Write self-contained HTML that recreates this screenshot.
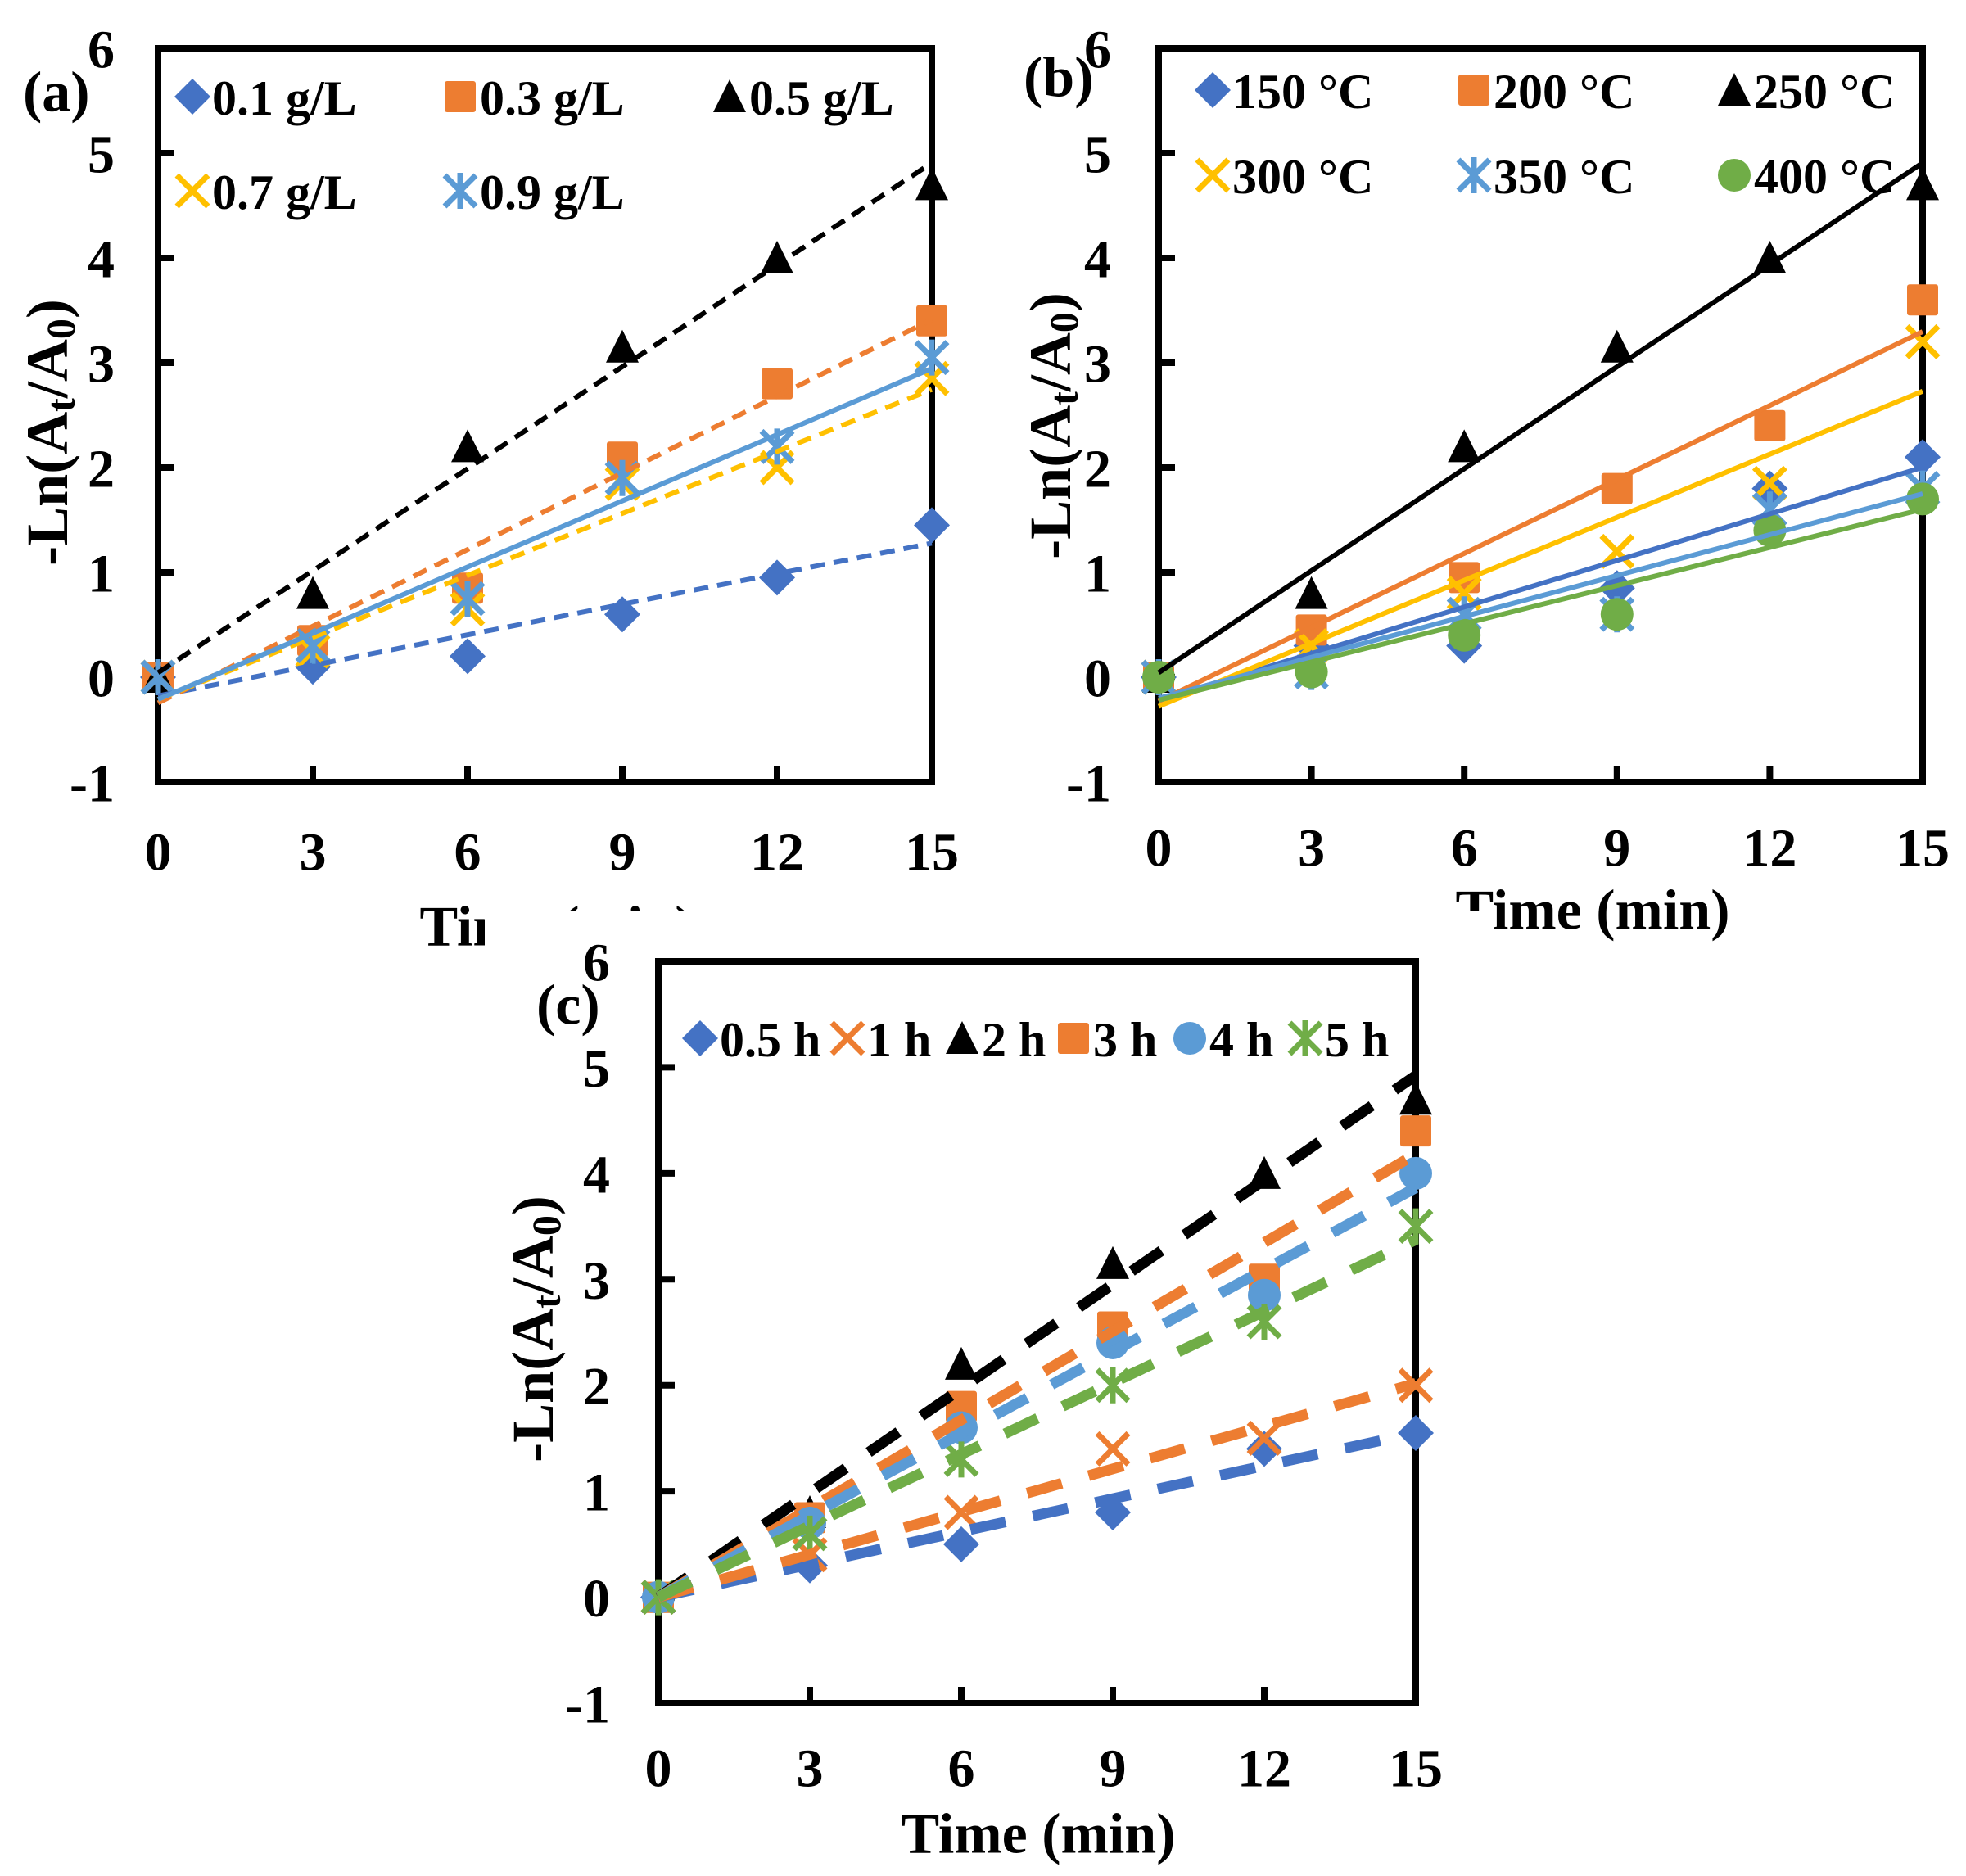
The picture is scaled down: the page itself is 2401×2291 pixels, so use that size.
<!DOCTYPE html>
<html><head><meta charset="utf-8"><style>
html,body{margin:0;padding:0;background:#fff}
svg{display:block}
text{font-family:"Liberation Serif",serif;font-weight:bold;fill:#000}
</style></head><body>
<svg id="fig" width="2401" height="2291" viewBox="0 0 2401 2291" xmlns="http://www.w3.org/2000/svg"></svg>
<script>
const NS="http://www.w3.org/2000/svg";
const svg=document.getElementById('fig');
const xTicks=[0,3,6,9,12,15];
const yTicks=[-1,0,1,2,3,4,5,6];
const times=[0,3,6,9,12,15];
// Panel (a)
const aNames=["0.1 g/L","0.3 g/L","0.5 g/L","0.7 g/L","0.9 g/L"];
const aS1=[0,0.1,0.2,0.6,0.95,1.45];
const aS2=[0,0.35,0.85,2.1,2.8,3.4];
const aS3=[0,0.8,2.2,3.15,4.0,4.7];
const aS4=[0,0.25,0.65,1.85,2.0,2.85];
const aS5=[0,0.3,0.75,1.9,2.2,3.05];
// Panel (b)
const bNames=["150 °C","200 °C","250 °C","300 °C","350 °C","400 °C"];
const bS1=[0,0.3,0.3,0.85,1.8,2.1];
const bS2=[0,0.45,0.95,1.8,2.4,3.6];
const bS3=[0,0.8,2.2,3.15,4.0,4.7];
const bS4=[0,0.3,0.8,1.2,1.85,3.2];
const bS5=[0,0.05,0.6,0.6,1.6,1.8];
const bS6=[0,0.05,0.4,0.6,1.4,1.7];
// Panel (c)
const cNames=["0.5 h","1 h","2 h","3 h","4 h","5 h"];
const cS1=[0,0.3,0.5,0.8,1.4,1.55];
const cS2=[0,0.4,0.8,1.4,1.5,2.0];
const cS3=[0,0.8,2.2,3.15,4.0,4.7];
const cS4=[0,0.75,1.8,2.55,3.0,4.4];
const cS5=[0,0.7,1.6,2.4,2.85,4.0];
const cS6=[0,0.6,1.3,2.0,2.6,3.5];

const BLUE="#4472C4",OR="#ED7D31",BK="#000",YE="#FFC000",LB="#5B9BD5",GR="#70AD47";

function mk(tag,attrs,parent){const e=document.createElementNS(NS,tag);for(const k in attrs)e.setAttribute(k,attrs[k]);(parent||svg).appendChild(e);return e;}

function marker(g,type,cx,cy,col){
  let e;const s=19;
  if(type==='diamond')e=mk('polygon',{points:`${cx},${cy-s-3} ${cx+s+3},${cy} ${cx},${cy+s+3} ${cx-s-3},${cy}`,fill:col},g);
  else if(type==='square')e=mk('rect',{x:cx-s,y:cy-s,width:2*s,height:2*s,fill:col,rx:3},g);
  else if(type==='triangle')e=mk('polygon',{points:`${cx},${cy-s-2} ${cx+s+1},${cy+s} ${cx-s-1},${cy+s}`,fill:col},g);
  else if(type==='circle')e=mk('circle',{cx:cx,cy:cy,r:s+1,fill:col},g);
  else if(type==='x')e=mk('path',{d:`M${cx-s},${cy-s}L${cx+s},${cy+s}M${cx+s},${cy-s}L${cx-s},${cy+s}`,stroke:col,'stroke-width':7,fill:'none'},g);
  else if(type==='star')e=mk('path',{d:`M${cx-s},${cy-s}L${cx+s},${cy+s}M${cx+s},${cy-s}L${cx-s},${cy+s}M${cx},${cy-s-3}L${cx},${cy+s+3}`,stroke:col,'stroke-width':7,fill:'none'},g);
  return e;
}

function fit(vals,origin){
  const n=times.length;
  if(origin){let sxy=0,sxx=0;for(let i=0;i<n;i++){sxy+=times[i]*vals[i];sxx+=times[i]*times[i];}return {m:sxy/sxx,b:0};}
  let mx=0,my=0;for(let i=0;i<n;i++){mx+=times[i];my+=vals[i];}mx/=n;my/=n;
  let sxy=0,sxx=0;for(let i=0;i<n;i++){sxy+=(times[i]-mx)*(vals[i]-my);sxx+=(times[i]-mx)**2;}
  const m=sxy/sxx;return {m:m,b:my-m*mx};
}

function panel(cfg){
  const g=mk('g',{});
  
  
  if(cfg.cover){const r=mk('rect',{x:cfg.cover[0],y:cfg.cover[1],width:cfg.cover[2],height:cfg.cover[3],fill:'#fff'},g);
    }
  const X=v=>cfg.x0+(v-0)/15*(cfg.x1-cfg.x0);
  const Y=v=>cfg.yb+(v+1)/7*(cfg.yt-cfg.yb);
  const fr=mk('rect',{x:cfg.x0,y:cfg.yt,width:cfg.x1-cfg.x0,height:cfg.yb-cfg.yt,fill:'none',stroke:'#000','stroke-width':8},g);
  
  xTicks.forEach(t=>{
    const l=mk('line',{x1:X(t),x2:X(t),y1:cfg.yb,y2:cfg.yb-20,stroke:'#000','stroke-width':8},g);
    
    const tx=mk('text',{x:X(t),y:cfg.xly,'font-size':66,'text-anchor':'middle','dominant-baseline':'central'},g);
    tx.textContent=t;
  });
  yTicks.forEach(t=>{
    const l=mk('line',{x1:cfg.x0,x2:cfg.x0+20,y1:Y(t),y2:Y(t),stroke:'#000','stroke-width':8},g);
    
    const tx=mk('text',{x:cfg.ylx,y:Y(t)+2,'font-size':66,'text-anchor':'end','dominant-baseline':'central'},g);
    tx.textContent=t;
  });
  const yt=mk('text',{x:0,y:0,'font-size':72,'text-anchor':'middle','dominant-baseline':'central',transform:`translate(${cfg.ytx},${cfg.yty}) rotate(-90)`},g);
  yt.innerHTML='-Ln(A<tspan font-size="50" dy="16">t</tspan><tspan dy="-16">/A</tspan><tspan font-size="50" dy="16">0</tspan><tspan dy="-16">)</tspan>';
  
  const lab=mk('text',{x:cfg.lab[0],y:cfg.lab[1],'font-size':70,'dominant-baseline':'central'},g);
  lab.textContent=cfg.label;
  cfg.series.forEach((s,i)=>{
    const sg=mk('g',{},g);
    
    
    s.vals.forEach((v,j)=>{const m=marker(sg,s.type,X(times[j]),Y(v),s.col);
      });
  });
  cfg.series.forEach(s=>{
    const f=fit(s.vals,cfg.origin);
    const ln=mk('line',{x1:X(0),y1:Y(f.b),x2:X(15),y2:Y(f.b+15*f.m),stroke:s.lc||s.col,'stroke-width':cfg.lw,'stroke-dasharray':s.dash||'none'},g);
    
  });
  cfg.series.forEach((s,i)=>{
    const p=cfg.leg[i];
    const lg=mk('g',{},g);
    
    marker(lg,s.type,p[0],p[1],s.col);
    const t=mk('text',{x:p[0]+24,y:p[1]+2,'font-size':60,'dominant-baseline':'central'},lg);t.textContent=s.name;
  });
  const xt=mk('text',{x:cfg.xt[0],y:cfg.xt[1],'font-size':70,'text-anchor':'middle','dominant-baseline':'central'},g);
  xt.textContent='Time (min)';
}

const dA='18 11';
panel({id:'panel-a',label:'(a)',x0:193,x1:1138,yt:59,yb:955,xly:1041,ylx:140,ytx:58,yty:528,lab:[28,113],xt:[680,1132],origin:false,lw:6,
 series:[{name:aNames[0],vals:aS1,type:'diamond',col:BLUE,dash:dA},{name:aNames[1],vals:aS2,type:'square',col:OR,dash:dA},
 {name:aNames[2],vals:aS3,type:'triangle',col:BK,dash:dA},{name:aNames[3],vals:aS4,type:'x',col:YE,dash:dA},{name:aNames[4],vals:aS5,type:'star',col:LB}],
 leg:[[235,118],[562,118],[891,118],[235,233],[562,233]]});
panel({id:'panel-b',label:'(b)',x0:1415,x1:2348,yt:59,yb:955,xly:1036,ylx:1357,ytx:1283,yty:520,lab:[1250,95],xt:[1945,1112],origin:false,lw:6,
 series:[{name:bNames[0],vals:bS1,type:'diamond',col:BLUE},{name:bNames[1],vals:bS2,type:'square',col:OR},{name:bNames[2],vals:bS3,type:'triangle',col:BK},
 {name:bNames[3],vals:bS4,type:'x',col:YE},{name:bNames[4],vals:bS5,type:'star',col:LB},{name:bNames[5],vals:bS6,type:'circle',col:GR}],
 leg:[[1481,110],[1800,110],[2118,110],[1481,214],[1800,214],[2118,214]]});
panel({id:'panel-c',label:'(c)',cover:[592,1112,1222,1179],x0:804,x1:1729,yt:1174,yb:2080,xly:2160,ylx:745,ytx:651,yty:1623,lab:[655,1228],xt:[1268,2240],origin:true,lw:13,
 series:[{name:cNames[0],vals:cS1,type:'diamond',col:BLUE,dash:'44 34'},{name:cNames[1],vals:cS2,type:'x',col:OR,dash:'44 34'},{name:cNames[2],vals:cS3,type:'triangle',col:BK,dash:'44 34'},
 {name:cNames[3],vals:cS4,type:'square',col:OR,dash:'44 34'},{name:cNames[4],vals:cS5,type:'circle',col:LB,dash:'44 34'},{name:cNames[5],vals:cS6,type:'star',col:GR,dash:'44 34'}],
 leg:[[855,1268],[1035,1268],[1175,1268],[1311,1268],[1453,1268],[1594,1268]]});
</script>
</body></html>
